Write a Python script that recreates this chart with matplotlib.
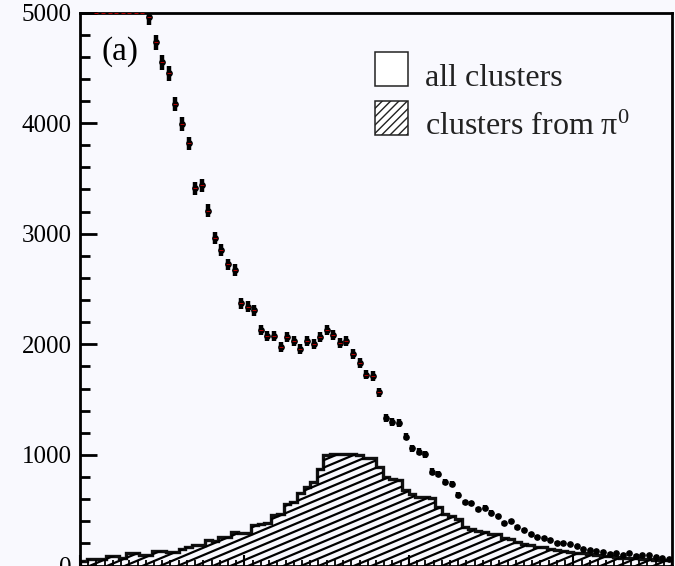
import numpy as np
import matplotlib
matplotlib.use("Agg")
import matplotlib.pyplot as plt
from matplotlib.patches import Rectangle
from matplotlib.collections import LineCollection
from matplotlib.ticker import MultipleLocator

plt.rcParams["font.family"] = ["Liberation Serif", "DejaVu Serif"]
plt.rcParams["mathtext.fontset"] = "custom"
plt.rcParams["mathtext.rm"] = "Liberation Serif"
plt.rcParams["mathtext.it"] = "Liberation Serif:italic"
plt.rcParams["hatch.linewidth"] = 1.0

# binning: 90 bins between 0 and 0.9
x_lo, x_hi, n_bins = 0.0, 0.9, 90
edges = np.linspace(x_lo, x_hi, n_bins + 1)
centers = 0.5 * (edges[:-1] + edges[1:])

# clusters from pi0 (hatched histogram), bins 0..89
pi0_counts = [39, 62, 62, 62, 86, 86, 70, 110, 110, 95,
              95, 131, 131, 122, 122, 146, 167, 183, 183, 231,
              222, 261, 261, 304, 292, 292, 364, 372, 380, 455,
              465, 560, 575, 652, 712, 757, 870, 998, 1005, 1010,
              1010, 1005, 1000, 975, 970, 893, 800, 778, 773, 679,
              649, 622, 615, 607, 531, 470, 445, 420, 350, 332,
              315, 305, 283, 281, 246, 241, 215, 196, 186, 171,
              164, 151, 139, 133, 124, 117, 110, 102, 92, 86,
              84, 80, 72, 66, 64, 62, 57, 52, 49, 47]

# all clusters (points), bins 2..89 (first bins are off scale)
first_bin = 2
all_counts = [9000, 8400, 7800, 7200, 6600, 6100, 5600, 5250,
              4960, 4731, 4550, 4450, 4170, 3992, 3817, 3410, 3440, 3208,
              2958, 2850, 2723, 2672, 2371, 2340, 2307, 2129, 2078, 2072,
              1973, 2069, 2033, 1955, 2027, 2003, 2063, 2132, 2084, 2009,
              2033, 1910, 1831, 1725, 1713, 1566, 1331, 1300, 1291, 1165,
              1060, 1029, 1008, 848, 827, 758, 737, 637, 571, 563,
              508, 524, 479, 448, 380, 398, 344, 324, 288, 260,
              253, 235, 206, 203, 194, 176, 149, 136, 131, 125,
              108, 110, 95, 113, 90, 95, 95, 77, 65, 55]

y_top = 5000
y_ticks = [0, 1000, 2000, 3000, 4000, 5000]
legend_labels = ["all clusters", "clusters from π$^{0}$"]
panel_label = "(a)"

bg = "#f9f9fe"
fig = plt.figure(figsize=(6.75, 5.66), dpi=100, facecolor=bg)
ax_pos = [80 / 675, 0.5 / 566, 592 / 675, 553 / 566]
ax = fig.add_axes(ax_pos, facecolor=bg)

# hatched pi0 histogram
pi0_patch = ax.stairs(pi0_counts, edges, fill=True, facecolor="none",
                      edgecolor="none")
W = 675 * ax_pos[2]
H = 566 * ax_pos[3]
slope, gap = 0.42, 7.4
segs = []
for b in np.arange(-slope * W, H, gap):
    segs.append([(0, b / H), (1, (b + slope * W) / H)])
lc = LineCollection(segs, colors="black", linewidths=1.6,
                    transform=ax.transAxes)
ax.add_collection(lc, autolim=False)
lc.set_clip_path(pi0_patch)
ax.stairs(pi0_counts, edges, color="#111111", linewidth=2.4)

# all clusters points with errors
xc = centers[first_bin:first_bin + len(all_counts)]
vals = np.array(all_counts, dtype=float)
ax.errorbar(xc, vals, yerr=np.sqrt(vals), fmt="none", ecolor="black",
            elinewidth=3.2, capsize=0, zorder=3)
ax.plot(xc, vals, "o", color="black", ms=3.8, zorder=3)
# the red marker line only shows inside the taller error boxes
big = vals > 1400
ax.plot(xc[big], np.minimum(vals[big], y_top), "_", color="red", ms=2.3,
        mew=0.5, clip_on=False, zorder=6)

ax.set_xlim(x_lo, x_hi)
ax.set_ylim(0, y_top)
ax.set_yticks(y_ticks)
ax.yaxis.set_minor_locator(MultipleLocator(200))
ax.xaxis.set_major_locator(MultipleLocator(0.25))
ax.xaxis.set_minor_locator(MultipleLocator(0.0125))

ax.tick_params(axis="y", which="major", direction="in", length=12, width=2,
               labelsize=18, pad=6)
ax.tick_params(axis="y", which="minor", direction="in", length=7, width=2)
ax.tick_params(axis="x", which="major", direction="in", length=8, width=1.5,
               labelbottom=False)
ax.tick_params(axis="x", which="minor", direction="in", length=4.3, width=1.3)
for s in ax.spines.values():
    s.set_linewidth(2)

# panel label and legend
ax.text(0.037, 0.9286, panel_label, transform=ax.transAxes, fontsize=24,
        va="center", ha="left")
ax.add_patch(Rectangle((0.498, 0.867), 0.056, 0.0615, transform=ax.transAxes,
                       facecolor="white", edgecolor="#222222", lw=1.1))
ax.add_patch(Rectangle((0.498, 0.778), 0.056, 0.0615, transform=ax.transAxes,
                       facecolor="white", edgecolor="#222222", lw=1.1,
                       hatch="////"))
ax.text(0.5828, 0.8671, legend_labels[0], transform=ax.transAxes,
        fontsize=23, va="baseline", ha="left", color="#222222")
ax.text(0.5828, 0.7776, legend_labels[1], transform=ax.transAxes,
        fontsize=23, va="baseline", ha="left", color="#222222")

plt.savefig("out.png", dpi=100, facecolor=bg)
